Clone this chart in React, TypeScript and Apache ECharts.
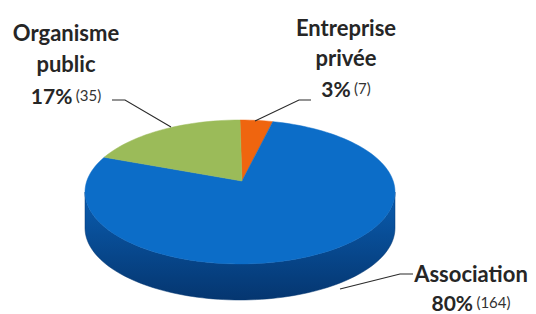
import React, { useEffect, useRef } from "react";
import * as echarts from "echarts";

// ---- data ----
const categories = ["Entreprise privée", "Association", "Organisme public"];
const labelLines = [["Entreprise", "privée"], ["Association"], ["Organisme", "public"]];
const counts = [7, 164, 35];
const percents = [3, 80, 17];

// ---- styles / layout ----
const topColors = ["#ef650f", "#0c6dc8", "#9bbb59"];
const sideColors = [
  ["#c24f08", "#8a3805"],
  ["#0a5db0", "#053670"],
  ["#7f9c45", "#5b7330"],
];
// ellipse centre, radii, apex (perspective-shifted centre of the pie), wall depth
const PIE = { cx: 240, cy: 192, rx: 155, ry: 72, ax: 242, ay: 181, depth: 36 };
// label layout: text centre x, first line y, line height, leader points
const labelLayout = [
  { x: 346, y: 27, lh: 30.5, leader: [[311, 100], [299, 100], [255, 121]] },
  { x: 471, y: 273, lh: 29, leader: [[413, 274], [400, 274], [340, 289]] },
  { x: 66, y: 32, lh: 31.5, leader: [[112, 100], [125, 100], [171, 127]] },
];

const total = counts.reduce((a, b) => a + b, 0);

function pt(theta: number, dy = 0): number[] {
  return [PIE.cx + PIE.rx * Math.sin(theta), PIE.cy - PIE.ry * Math.cos(theta) + dy];
}

function arc(a: number, b: number, dy = 0): number[][] {
  const n = Math.max(2, Math.ceil(((b - a) / (Math.PI * 2)) * 180));
  const out: number[][] = [];
  for (let k = 0; k <= n; k++) out.push(pt(a + ((b - a) * k) / n, dy));
  return out;
}

export default function App() {
  const ref = useRef<HTMLDivElement>(null);
  useEffect(() => {
    if (!ref.current) return;
    const chart = echarts.init(ref.current, null, { renderer: "svg" });
    const font = "Lato, 'Open Sans', sans-serif";
    chart.setOption({
      animation: false,
      backgroundColor: "#ffffff",
      series: [
        {
          type: "custom",
          coordinateSystem: "none",
          silent: true,
          data: counts.map((v, i) => [i, v]),
          renderItem: (params: any, api: any) => {
            const i = params.dataIndex;
            const v = api.value(1);
            let before = 0;
            for (let k = 0; k < i; k++) before += counts[k];
            const a = (before / total) * Math.PI * 2;
            const b = ((before + v) / total) * Math.PI * 2;
            const children: any[] = [];
            // side wall (front half only)
            const lo = Math.max(a, Math.PI / 2);
            const hi = Math.min(b, (Math.PI * 3) / 2);
            if (hi > lo) {
              const pts = arc(lo, hi).concat(arc(lo, hi, PIE.depth).reverse());
              children.push({
                type: "polygon",
                z2: 1,
                shape: { points: pts },
                style: {
                  fill: {
                    type: "linear",
                    x: 0, y: 0, x2: 0, y2: 1,
                    colorStops: [
                      { offset: 0, color: sideColors[i][0] },
                      { offset: 1, color: sideColors[i][1] },
                    ],
                  },
                  stroke: sideColors[i][1],
                  lineWidth: 0.5,
                },
              });
            }
            // top face
            children.push({
              type: "polygon",
              z2: 10,
              shape: { points: [[PIE.ax, PIE.ay]].concat(arc(a, b)) },
              style: { fill: topColors[i], stroke: topColors[i], lineWidth: 0.5 },
            });
            // leader line
            const L = labelLayout[i];
            children.push({
              type: "polyline",
              z2: 20,
              shape: { points: L.leader },
              style: { stroke: "#2a2a2a", lineWidth: 1.1, fill: null },
            });
            // label text
            const lines = labelLines[i];
            lines.forEach((t, k) => {
              children.push({
                type: "text",
                z2: 20,
                style: {
                  text: t,
                  x: L.x,
                  y: L.y + k * L.lh,
                  align: "center",
                  verticalAlign: "middle",
                  font: `bold 22px ${font}`,
                  fill: "#262626",
                },
              });
            });
            children.push({
              type: "text",
              z2: 20,
              style: {
                text: `{p|${percents[i]}%} {c|(${counts[i]})}`,
                x: L.x,
                y: L.y + lines.length * L.lh,
                align: "center",
                verticalAlign: "middle",
                rich: {
                  p: { fontFamily: font, fontWeight: "bold", fontSize: 21, fill: "#262626", color: "#262626" },
                  c: { fontFamily: font, fontWeight: "normal", fontSize: 15, fill: "#333333", color: "#333333" },
                },
              },
            });
            return { type: "group", children };
          },
        },
      ],
    });
    return () => chart.dispose();
  }, []);
  return (
    <div
      ref={ref}
      style={{ position: "fixed", left: 0, top: 0, width: 536, height: 314 }}
      aria-label={categories.join(", ")}
    />
  );
}
